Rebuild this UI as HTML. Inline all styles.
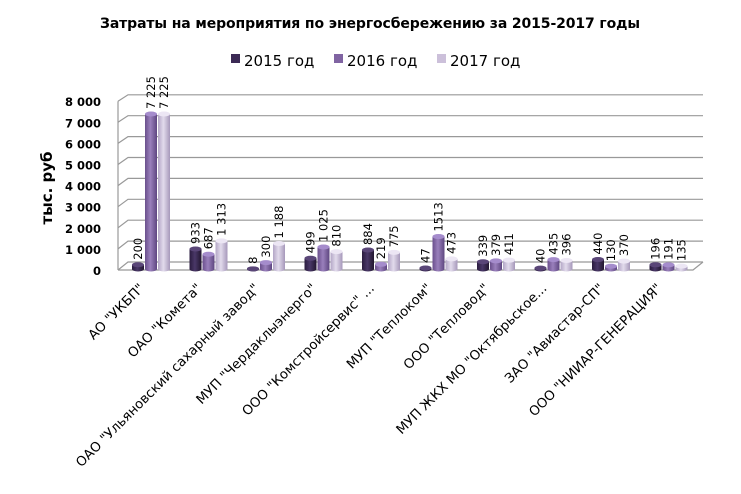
<!DOCTYPE html>
<html><head><meta charset="utf-8"><style>
body{margin:0;background:#fff;}
svg{display:block;font-family:"DejaVu Sans","Liberation Sans",sans-serif;}
</style></head><body>
<svg width="741" height="494" viewBox="0 0 741 494" xmlns="http://www.w3.org/2000/svg">
<defs>
<linearGradient id="g0" x1="0" x2="1"><stop offset="0" stop-color="#2a1c3e"/><stop offset="0.45" stop-color="#4a3868"/><stop offset="1" stop-color="#22162f"/></linearGradient>
<linearGradient id="g1" x1="0" x2="1"><stop offset="0" stop-color="#6a4f8c"/><stop offset="0.45" stop-color="#9a80bc"/><stop offset="1" stop-color="#5e4680"/></linearGradient>
<linearGradient id="g2" x1="0" x2="1"><stop offset="0" stop-color="#b3a6c6"/><stop offset="0.45" stop-color="#e2dbec"/><stop offset="1" stop-color="#a698ba"/></linearGradient>
</defs>
<text x="370" y="28" font-size="14" font-weight="bold" text-anchor="middle" fill="#000" textLength="540">Затраты на мероприятия по энергосбережению за 2015-2017 годы</text>
<rect x="231" y="54" width="9" height="9" fill="#3c2a55"/><text x="244" y="66" font-size="15">2015 год</text>
<rect x="334" y="54" width="9" height="9" fill="#8064a2"/><text x="347" y="66" font-size="15">2016 год</text>
<rect x="437" y="54" width="9" height="9" fill="#ccc0da"/><text x="450" y="66" font-size="15">2017 год</text>
<g stroke="#999" stroke-width="1.2" fill="none" id="grid"></g>
<g id="ylab" font-size="11.5" font-weight="bold" text-anchor="end"></g>
<text transform="translate(52,188) rotate(-90)" font-size="15" font-weight="bold" text-anchor="middle">тыс. руб</text>
<g id="bars"></g>
<g id="vals" font-size="11.5"></g>
<g id="cats" font-size="13.3" text-anchor="end"></g>
<script>
var ns="http://www.w3.org/2000/svg";
function el(p,t,a,txt){var e=document.createElementNS(ns,t);for(var k in a)e.setAttribute(k,a[k]);if(txt!=null)e.textContent=txt;document.getElementById(p).appendChild(e);return e;}
for(var i=0;i<=8;i++){var yb=262-i*20.9, yf=270-i*21.1;
 el("grid","polyline",{points:"118,"+yf+" 128,"+yb+" 703,"+yb});
 el("ylab","text",{x:101,y:yf+5},i==0?"0":i+" 000");}
el("grid","line",{x1:118,y1:270-8*21.1,x2:118,y2:270});
el("grid","polyline",{points:"118,270 693,270 703,262"});
var d=[[200,7225,7225],[933,687,1313],[8,300,1188],[499,1025,810],[884,219,775],[47,1513,473],[339,379,411],[40,435,396],[440,130,370],[196,191,135]];
var cats=['АО "УКБП"','ОАО "Комета"','ОАО "Ульяновский сахарный завод"','МУП "Чердаклыэнерго"','ООО "Комстройсервис" ...','МУП "Теплоком"','ООО "Тепловод"','МУП ЖКХ МО "Октябрьское...','ЗАО "Авиастар-СП"','ООО "НИИАР-ГЕНЕРАЦИЯ"'];
var grads=["g0","g1","g2"],tops=["#5a4678","#a58ccc","#ece6f4"];
for(var c=0;c<10;c++){
 var x0=132+c*57.5;
 for(var s=0;s<3;s++){
  var x=x0+s*13,w=12,h=d[c][s]*0.02145,yb=269,yt=yb-h;
  el("bars","rect",{x:x,y:yt,width:w,height:h,fill:"url(#"+grads[s]+")"});
  el("bars","ellipse",{cx:x+w/2,cy:yb,rx:w/2,ry:2.5,fill:"url(#"+grads[s]+")"});
  el("bars","ellipse",{cx:x+w/2,cy:yt,rx:w/2,ry:2.5,fill:tops[s]});
  var v=d[c][s]>=1000?Math.floor(d[c][s]/1000)+" "+String(d[c][s]%1000).padStart(3,"0"):String(d[c][s]);
  if(c==5&&s==1)v="1513";
  el("vals","text",{transform:"translate("+(x+w/2+4)+","+(yt-5)+") rotate(-90)"},v);
 }
 var cx=x0+13+6;
 el("cats","text",{transform:"translate("+(cx-6)+",289) rotate(-45)"},cats[c]);
}
</script>
</svg>
</body></html>
